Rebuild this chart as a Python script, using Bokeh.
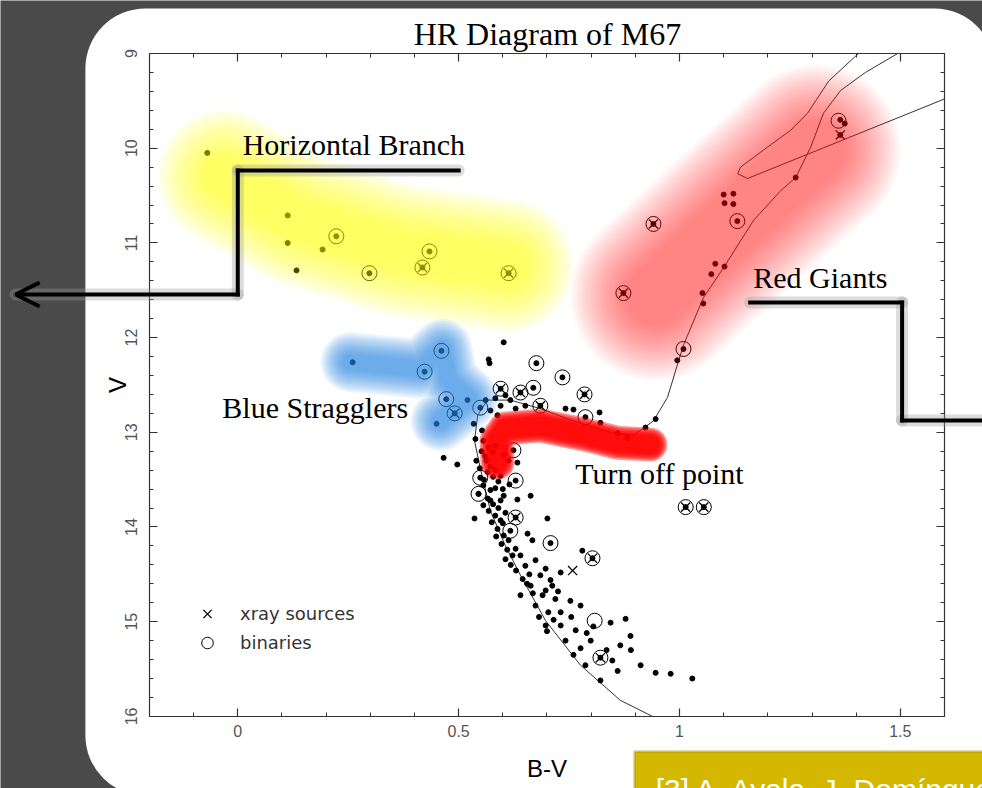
import numpy as np
from bokeh.plotting import figure
from bokeh.models import (Range1d, SingleIntervalTicker, LinearAxis, NumeralTickFormatter,
                          CustomJSTickFormatter, BoxAnnotation, Label, Arrow, OpenHead,
                          Legend, LegendItem)
from bokeh.embed import file_html
from bokeh.resources import INLINE

# ---------------- data (B-V colour, V magnitude) ----------------
star_bv = [-0.069, 0.113, 0.113, 0.133, 0.192, 0.223, 0.298, 0.434, 0.418, 0.613,
           1.364, 1.374, 1.364, 1.263, 1.100, 1.122, 1.102, 1.122, 1.131, 0.941,
           1.081, 1.102, 1.072, 1.052, 1.054, 0.873, 1.009, 0.995,
           0.260, 0.461, 0.423, 0.472, 0.491, 0.520, 0.450,
           0.602, 0.568, 0.570, 0.676, 0.735, 0.785, 0.595, 0.606, 0.640, 0.669,
           0.685, 0.549, 0.561, 0.572, 0.583, 0.595, 0.588, 0.617, 0.629, 0.651,
           0.742, 0.760, 0.787, 0.819, 0.821, 0.860, 0.882, 0.923, 0.946, 0.534,
           0.538, 0.466, 0.497,
           0.556, 0.568, 0.577, 0.583, 0.602, 0.613, 0.563, 0.572, 0.583, 0.595,
           0.633, 0.629, 0.556, 0.572, 0.583, 0.602, 0.663, 0.633, 0.545, 0.556,
           0.568, 0.583, 0.595, 0.606, 0.588, 0.602, 0.613, 0.629, 0.617, 0.536,
           0.701, 0.708, 0.656, 0.667, 0.629, 0.640, 0.572, 0.595, 0.624, 0.549,
           0.545,
           0.552, 0.560, 0.566, 0.578, 0.590, 0.548, 0.557, 0.566, 0.578, 0.590,
           0.600, 0.575, 0.585, 0.597, 0.610, 0.622, 0.606, 0.618, 0.630, 0.645,
           0.655, 0.668, 0.660, 0.690, 0.712, 0.725, 0.682, 0.700, 0.715, 0.755,
           0.760, 0.790, 0.805, 0.835, 0.860, 0.890, 0.600, 0.615, 0.540, 0.553,
           0.674, 0.697, 0.651, 0.685, 0.708, 0.731, 0.780, 0.803, 0.663, 0.697,
           0.719, 0.640, 0.674, 0.703, 0.731, 0.753, 0.776, 0.844, 0.878, 0.765,
           0.799, 0.821, 0.848, 0.866, 0.889, 0.912, 0.946, 0.980, 1.029, 0.787,
           0.821, 0.731, 0.742, 0.776, 0.697, 1.014, 1.055]
star_v = [10.05, 10.71, 11.00, 11.29, 11.07, 10.93, 11.32, 11.09, 11.26, 11.32,
          9.70, 9.74, 9.86, 10.31, 10.49, 10.48, 10.58, 10.59, 10.77, 10.80,
          11.22, 11.25, 11.33, 11.53, 11.64, 11.53, 12.12, 12.24,
          12.26, 12.14, 12.36, 12.65, 12.80, 12.66, 12.91,
          12.05, 12.23, 12.27, 12.27, 12.42, 12.60, 12.54, 12.61, 12.58, 12.53,
          12.72, 12.74, 12.66, 12.77, 12.64, 12.72, 12.82, 12.66, 12.75, 12.72,
          12.75, 12.76, 12.84, 12.79, 12.90, 13.01, 13.06, 12.95, 12.86, 12.91,
          13.07, 13.27, 13.34,
          13.09, 13.16, 13.21, 13.14, 13.24, 13.30, 13.30, 13.36, 13.40, 13.46,
          13.32, 13.51, 13.56, 13.61, 13.59, 13.67, 13.67, 13.71, 13.65, 13.77,
          13.83, 13.88, 13.93, 13.85, 14.02, 14.09, 14.14, 13.90, 14.04, 13.91,
          13.91, 14.17, 14.07, 14.14, 14.23, 14.30, 13.72, 13.72, 13.19, 13.48,
          13.65,
          13.20, 13.25, 13.42, 13.47, 13.52, 13.38, 13.50, 13.70, 13.76, 13.80,
          13.96, 13.95, 14.10, 14.18, 14.24, 14.30, 14.34, 14.40, 14.46, 14.55,
          14.60, 14.70, 14.50, 14.72, 14.62, 14.68, 14.95, 15.10, 14.98, 14.95,
          15.35, 15.12, 15.05, 15.30, 15.52, 15.30, 13.60, 13.55, 13.30, 12.98,
          14.35, 14.44, 14.41, 14.51, 14.56, 14.48, 14.25, 14.33, 14.62, 14.67,
          14.76, 14.72, 14.83, 14.90, 14.90, 14.78, 14.83, 15.01, 14.97, 15.09,
          15.20, 15.38, 15.41, 15.25, 15.15, 15.46, 15.54, 15.55, 15.60, 15.46,
          15.62, 15.04, 15.20, 15.28, 15.04, 13.79, 13.79]

binary_bv = [0.223, 0.298, 0.434, 0.418, 0.613, 1.360, 0.941, 1.131, 0.873, 1.009,
             0.461, 0.423, 0.472, 0.491, 0.676, 0.735, 0.785, 0.595, 0.640, 0.669,
             0.685, 0.549, 0.787, 0.624, 0.629, 0.549, 0.545, 0.629, 0.617, 0.708,
             0.803, 0.808, 0.821, 1.014, 1.055]
binary_v = [10.93, 11.32, 11.09, 11.26, 11.32, 9.71, 10.80, 10.77, 11.53, 12.12,
            12.14, 12.36, 12.65, 12.80, 12.27, 12.42, 12.60, 12.54, 12.58, 12.53,
            12.72, 12.74, 12.84, 13.19, 13.51, 13.48, 13.65, 13.90, 14.04, 14.17,
            14.33, 14.99, 15.38, 13.79, 13.79]

xray_bv = [0.418, 0.613, 1.364, 0.941, 0.873, 0.491, 0.785, 0.595, 0.640, 0.685,
           0.629, 0.803, 0.758, 0.821, 1.014, 1.055]
xray_v = [11.26, 11.32, 9.86, 10.80, 11.53, 12.80, 12.60, 12.54, 12.58, 12.72,
          13.90, 14.33, 14.46, 15.38, 13.79, 13.79]

# isochrone (main sequence -> turn-off -> subgiants -> red giant branch)
iso_bv = [0.939, 0.866, 0.776, 0.697, 0.640, 0.606, 0.572, 0.550, 0.536, 0.543,
          0.565, 0.617, 0.685, 0.760, 0.850, 0.896, 0.941, 0.973, 0.995, 1.009,
          1.054, 1.100, 1.168, 1.229, 1.263, 1.297, 1.326, 1.365, 1.421, 1.494]
iso_v = [16.00, 15.83, 15.46, 14.99, 14.51, 14.20, 13.83, 13.40, 13.09, 12.82,
         12.66, 12.66, 12.75, 12.88, 13.01, 13.03, 12.88, 12.63, 12.29, 12.08,
         11.58, 11.26, 10.76, 10.45, 10.31, 9.99, 9.63, 9.39, 9.20, 9.00]
# later evolutionary branch (clump / AGB loop)
loop_bv = [1.600, 1.154, 1.132, 1.138, 1.190, 1.252, 1.290, 1.338, 1.405]
loop_v = [9.48, 10.32, 10.27, 10.20, 10.02, 9.81, 9.63, 9.29, 9.00]

# highlighted regions (centre lines)
hb_bv = [-0.03, 0.14, 0.37, 0.61]
hb_v = [10.30, 10.76, 11.08, 11.24]
rg_bv = [0.946, 1.130, 1.308]
rg_v = [11.555, 10.76, 10.02]
bs_bv = [0.255, 0.413, 0.463, 0.477, 0.522, 0.459]
bs_v = [12.26, 12.33, 12.12, 12.45, 12.64, 12.88]
to_bv = [0.588, 0.586, 0.606, 0.685, 0.791, 0.859, 0.934]
to_v = [13.32, 13.09, 12.96, 12.93, 13.03, 13.11, 13.13]

x_lo, x_hi = -0.2, 1.6
v_bright, v_faint = 9, 16

# ---------------- figure ----------------
BG = "#4a4a4a"
p = figure(width=982, height=788, output_backend="svg", toolbar_location=None,
           title_location=None,
           x_range=Range1d(-0.5372, 1.6860), y_range=Range1d(16.7614, 8.4403),
           min_border_left=0, min_border_right=0, min_border_top=0, min_border_bottom=0)
p.background_fill_color = BG
p.border_fill_color = BG
p.outline_line_color = None
p.xgrid.visible = False
p.ygrid.visible = False

# white rounded slide panel
p.add_layout(BoxAnnotation(left=-0.345, right=1.713, top=8.525, bottom=16.835,
                           fill_color="white", fill_alpha=1, line_alpha=0,
                           border_radius=60, level="underlay"))

TICK_FONT = "Liberation Sans"

def style_axis(ax, ticker, bounds, loc, labels=True):
    ax.ticker = ticker
    ax.bounds = bounds
    ax.fixed_location = loc
    ax.major_tick_in = 8
    ax.major_tick_out = 0
    ax.minor_tick_in = 4
    ax.minor_tick_out = 0
    ax.axis_line_color = "#333333"
    ax.axis_line_width = 1.2
    ax.major_tick_line_color = "#333333"
    ax.minor_tick_line_color = "#333333"
    ax.major_tick_line_width = 1.2
    ax.minor_tick_line_width = 1
    ax.major_label_text_font = TICK_FONT
    ax.major_label_text_color = "#555555"
    ax.major_label_text_font_size = "16px"
    if not labels:
        ax.formatter = CustomJSTickFormatter(code="return ''")

xt = lambda: SingleIntervalTicker(interval=0.5, num_minor_ticks=5)
yt = lambda: SingleIntervalTicker(interval=1, num_minor_ticks=5)

xa = p.xaxis[0]
style_axis(xa, xt(), (x_lo, x_hi), v_faint)
xa.formatter = NumeralTickFormatter(format="0.[0]")
xa.major_label_standoff = 9
xa.axis_label = "B-V"
xa.axis_label_text_font = "Liberation Sans"
xa.axis_label_text_font_size = "24px"
xa.axis_label_text_font_style = "normal"
xa.axis_label_text_color = "black"
xa.axis_label_standoff = 14

ya = p.yaxis[0]
style_axis(ya, yt(), (v_bright, v_faint), x_lo)
ya.major_label_orientation = "vertical"
ya.major_label_standoff = 12
ya.axis_label = "V"
ya.axis_label_text_font = "Liberation Sans"
ya.axis_label_text_font_size = "24px"
ya.axis_label_text_font_style = "normal"
ya.axis_label_text_color = "black"
ya.axis_label_standoff = -8

top_ax = LinearAxis()
style_axis(top_ax, xt(), (x_lo, x_hi), v_bright, labels=False)
p.add_layout(top_ax, "above")
right_ax = LinearAxis()
style_axis(right_ax, yt(), (v_bright, v_faint), x_hi, labels=False)
p.add_layout(right_ax, "right")

SERIF = "Liberation Serif"
# title of the original chart
p.add_layout(Label(x=0.701, y=8.79, text="HR Diagram of M67", text_font=SERIF,
                   text_font_size="32px", text_color="black", text_align="center",
                   text_baseline="alphabetic"))

# ---------------- data layers ----------------
p.line(iso_bv, iso_v, line_color="#333333", line_width=1)
p.line(loop_bv, loop_v, line_color="#333333", line_width=1)

p.scatter(star_bv, star_v, marker="circle", size=5, fill_color="black", line_color="black")
r_bin = p.scatter(binary_bv, binary_v, marker="circle", size=15, fill_alpha=0,
                  line_color="black", line_width=1)
r_xr = p.scatter(xray_bv, xray_v, marker="x", size=13, line_color="black", line_width=1.3)

# ---------------- soft highlight regions ----------------
def glow(xs, ys, color, w_in, w_out, target, n):
    a = 1 - (1 - target) ** (1.0 / n)
    for i in range(n):
        w = w_out - (w_out - w_in) * i / (n - 1)
        p.line(xs, ys, line_color=color, line_alpha=a, line_width=w,
               line_cap="round", line_join="round")

glow(hb_bv, hb_v, "#f8f800", 40, 135, 0.6, 20)
glow(rg_bv, rg_v, "#f42828", 60, 170, 0.52, 20)
glow(bs_bv, bs_v, "#2e88e4", 16, 60, 0.66, 14)
glow(to_bv, to_v, "#ff0000", 18, 34, 0.95, 6)

# ---------------- legend ----------------
legend = Legend(items=[LegendItem(label="xray sources", renderers=[r_xr]),
                       LegendItem(label="binaries", renderers=[r_bin])],
                location=(192, 131), orientation="vertical",
                background_fill_alpha=0, border_line_alpha=0,
                glyph_width=30, glyph_height=29, spacing=0, padding=0, margin=0,
                label_standoff=18, label_height=29,
                label_text_font="DejaVu Sans", label_text_font_size="18px",
                label_text_color="#333333")
p.add_layout(legend)

# ---------------- call-outs ----------------
def callout(pts, head=False):
    for k in range(len(pts) - 1):
        (x0, y0), (x1, y1) = pts[k], pts[k + 1]
        p.add_layout(Arrow(x_start=x0, y_start=y0, x_end=x1, y_end=y1, end=None,
                           line_color="#9a9a9a", line_alpha=0.35, line_width=12,
                           line_cap="round"))
    for k in range(len(pts) - 1):
        (x0, y0), (x1, y1) = pts[k], pts[k + 1]
        last = head and k == len(pts) - 2
        p.add_layout(Arrow(x_start=x0, y_start=y0, x_end=x1, y_end=y1,
                           end=OpenHead(size=24, line_width=4, line_color="black") if last else None,
                           line_color="black", line_width=4, line_cap="square"))

callout([(0.5, 10.235), (0.0, 10.235), (0.0, 11.545), (-0.503, 11.545)], head=True)
callout([(1.160, 11.63), (1.504, 11.63), (1.504, 12.875), (1.72, 12.875)])

for txt, x, y in [("Horizontal Branch", 0.011, 9.96), ("Red Giants", 1.167, 11.37),
                  ("Blue Stragglers", -0.035, 12.74), ("Turn off point", 0.764, 13.43)]:
    p.add_layout(Label(x=x, y=y, text=txt, text_font=SERIF, text_font_size="30px",
                       text_color="black", text_baseline="alphabetic"))

# ---------------- reference box ----------------
p.add_layout(BoxAnnotation(left=0.898, right=1.75, top=16.37, bottom=17.2,
                           fill_color="#d4b800", fill_alpha=1,
                           line_color="#a08a00", line_width=3))
p.add_layout(Label(x=0.946, y=16.603, text="[3] A. Ayala, J. Domínguez",
                   text_font="Liberation Sans", text_font_size="30px",
                   text_color="white", text_baseline="top"))

open("out.html", "w").write(file_html(p, INLINE))
